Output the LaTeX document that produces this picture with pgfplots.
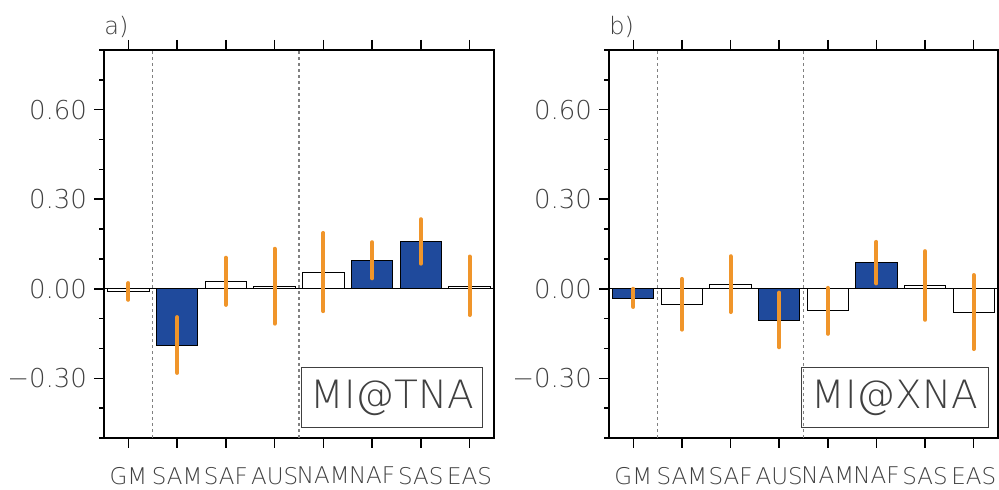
\documentclass[border=0pt]{standalone}
\usepackage{fontspec}
\IfFontExistsTF{DejaVu Sans ExtraLight}{\setmainfont{DejaVu Sans ExtraLight}}{\setmainfont{DejaVu Sans}}
\usepackage{pgfplots}
\pgfplotsset{compat=1.18}
\definecolor{barblue}{HTML}{1F4A9C}
\definecolor{errorange}{HTML}{F0952A}
\definecolor{txtgray}{HTML}{404040}
\pgfplotsset{panel/.style={
  scale only axis, width=195pt, height=194pt,
  xmin=-0.5, xmax=7.5, ymin=-0.5, ymax=0.8,
  axis line style={line width=1pt, black},
  xtick={0,...,7}, xticklabels={GM,SAM,SAF,AUS,NAM,NAF,SAS,EAS},
  xtick pos=both, xticklabel pos=lower,
  ytick={-0.3,0,0.3,0.6}, yticklabels={−0.30,0.00,0.30,0.60},
  minor ytick={-0.5,-0.4,-0.2,-0.1,0.1,0.2,0.4,0.5,0.7,0.8},
  ytick pos=left, tick align=outside,
  major tick length=5pt, minor tick length=2.5pt,
  tick style={line width=0.8pt, black},
  yticklabel style={font=\fontsize{13}{15}\selectfont, text=txtgray},
  xticklabel style={font=\fontsize{11.5}{13}\selectfont, text=txtgray, yshift=-6pt},
  clip=false,
}}
\begin{document}
\begin{tikzpicture}
\useasboundingbox (0,0) rectangle (499.5pt,245pt);
% panel a
\begin{axis}[panel, at={(52pt,26pt)}, anchor=south west]
\addplot[ybar, bar shift=0pt, bar width=0.85, fill=white, draw=black, line width=0.5pt]
  coordinates {(0,-0.009) (2,0.024) (3,0.008) (4,0.056) (7,0.009)};
\addplot[ybar, bar shift=0pt, bar width=0.85, fill=barblue, draw=black, line width=0.5pt]
  coordinates {(1,-0.190) (5,0.096) (6,0.159)};
\draw[black, line width=0.5pt] (axis cs:-0.5,0) -- (axis cs:7.5,0);
\draw[gray, line width=0.6pt, dash pattern=on 1.5pt off 1.5pt] (axis cs:0.5,-0.5) -- (axis cs:0.5,0.8);
\draw[gray, line width=0.6pt, dash pattern=on 1.5pt off 1.5pt] (axis cs:3.5,-0.5) -- (axis cs:3.5,0.8);
\addplot[errorange, line width=2pt, line cap=round, unbounded coords=jump, mark=none] coordinates {
  (0,0.019) (0,-0.037) (0,nan)
  (1,-0.095) (1,-0.282) (1,nan)
  (2,0.104) (2,-0.054) (2,nan)
  (3,0.134) (3,-0.117) (3,nan)
  (4,0.187) (4,-0.075) (4,nan)
  (5,0.156) (5,0.035) (5,nan)
  (6,0.233) (6,0.084) (6,nan)
  (7,0.108) (7,-0.088)};
\node[draw=txtgray, line width=0.6pt, minimum width=90.5pt, minimum height=30pt, anchor=south east, text=txtgray, font=\fontsize{19.5}{24}\selectfont, inner sep=0pt] at (rel axis cs:0.973,0.025) {MI@TNA};
\node[anchor=base west, text=txtgray, font=\fontsize{12}{15}\selectfont, inner sep=0pt] at ([yshift=7.5pt]rel axis cs:0,1) {a)};
\end{axis}
% panel b
\begin{axis}[panel, at={(304.5pt,26pt)}, anchor=south west, width=194.5pt]
\addplot[ybar, bar shift=0pt, bar width=0.85, fill=white, draw=black, line width=0.5pt]
  coordinates {(1,-0.053) (2,0.015) (4,-0.074) (6,0.010) (7,-0.078)};
\addplot[ybar, bar shift=0pt, bar width=0.85, fill=barblue, draw=black, line width=0.5pt]
  coordinates {(0,-0.031) (3,-0.105) (5,0.087)};
\draw[black, line width=0.5pt] (axis cs:-0.5,0) -- (axis cs:7.5,0);
\draw[gray, line width=0.6pt, dash pattern=on 1.5pt off 1.5pt] (axis cs:0.5,-0.5) -- (axis cs:0.5,0.8);
\draw[gray, line width=0.6pt, dash pattern=on 1.5pt off 1.5pt] (axis cs:3.5,-0.5) -- (axis cs:3.5,0.8);
\addplot[errorange, line width=2pt, line cap=round, unbounded coords=jump, mark=none] coordinates {
  (0,0.000) (0,-0.061) (0,nan)
  (1,0.033) (1,-0.137) (1,nan)
  (2,0.109) (2,-0.078) (2,nan)
  (3,-0.013) (3,-0.196) (3,nan)
  (4,0.003) (4,-0.151) (4,nan)
  (5,0.157) (5,0.018) (5,nan)
  (6,0.126) (6,-0.104) (6,nan)
  (7,0.046) (7,-0.202)};
\node[draw=txtgray, line width=0.6pt, minimum width=93.3pt, minimum height=30pt, anchor=south east, text=txtgray, font=\fontsize{19.5}{24}\selectfont, inner sep=0pt] at (rel axis cs:0.977,0.025) {MI@XNA};
\node[anchor=base west, text=txtgray, font=\fontsize{12}{15}\selectfont, inner sep=0pt] at ([yshift=7.5pt]rel axis cs:0,1) {b)};
\end{axis}
\end{tikzpicture}
\end{document}
